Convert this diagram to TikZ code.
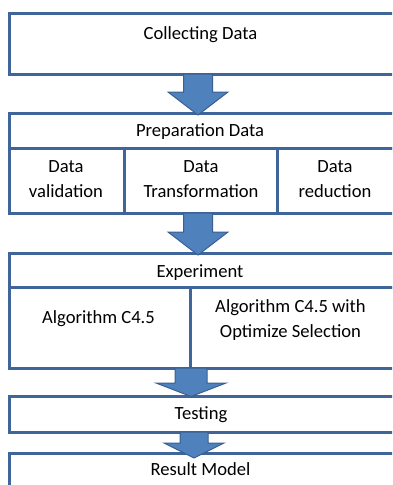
\documentclass[tikz,border=0pt]{standalone}
\usepackage{fontspec}
\setmainfont{Carlito}
\usetikzlibrary{calc}
\definecolor{boxline}{HTML}{40659A}
\definecolor{arrowfill}{HTML}{4F81BD}
\definecolor{arrowline}{HTML}{3A6091}
\newcommand{\blkarrow}[7]{% from, to, xoff, shafthalf, headhalf, tipoff, headlen
  \draw[blk] let \p1=(#1.south), \p2=(#2.north) in
    (\x2+#3pt-#4pt,\y1) -- (\x2+#3pt+#4pt,\y1) -- (\x2+#3pt+#4pt,\y2-#6pt+#7pt)
    -- (\x2+#3pt+#5pt,\y2-#6pt+#7pt) -- (\x2+#3pt,\y2-#6pt)
    -- (\x2+#3pt-#5pt,\y2-#6pt+#7pt) -- (\x2+#3pt-#4pt,\y2-#6pt+#7pt) -- cycle;}
\begin{document}
\begin{tikzpicture}[x=1pt,y=-1pt,
  cell/.style={draw=boxline, line width=3pt, fill=white, rectangle, inner sep=0pt, outer sep=0pt},
  lbl/.style={font=\fontsize{18.6}{25}\selectfont, align=center, inner sep=0pt, text=black},
  blk/.style={fill=arrowfill, draw=arrowline, line width=1pt, line join=miter}]
\useasboundingbox (0,0) rectangle (392,485);
\clip (0,0) rectangle (392,485);
% boxes
\node[cell, minimum width=386, minimum height=61] (collect) at (202,43.5) {};
\node[cell, minimum width=386, minimum height=35] (prep) at (202,130.5) {};
\node[cell, minimum width=115, minimum height=65] (val) at (66.5,180.5) {};
\node[cell, minimum width=153, minimum height=65] (trans) at (200.5,180.5) {};
\node[cell, minimum width=118, minimum height=65] (red) at (336,180.5) {};
\node[cell, minimum width=386, minimum height=34] (exp) at (202,270) {};
\node[cell, minimum width=181, minimum height=81] (alga) at (99.5,327.5) {};
\node[cell, minimum width=205, minimum height=81] (algb) at (292.5,327.5) {};
\node[cell, minimum width=386, minimum height=36] (test) at (202,414) {};
\node[cell, minimum width=386, minimum height=67] (result) at (202,486.5) {};
% texts
\node[lbl, anchor=base] (collectT) at (200.5,39.5) {Collecting Data};
\node[lbl, anchor=base] (prepT) at (200,136.5) {Preparation Data};
\node[lbl] (valT) at (66,179) {Data\\validation};
\node[lbl] (transT) at (201,179) {Data\\Transformation};
\node[lbl] (redT) at (335,179) {Data\\reduction};
\node[lbl, anchor=base] (expT) at (200,277) {Experiment};
\node[lbl, anchor=base] (algaT) at (98.5,323.5) {Algorithm C4.5};
\node[lbl] (algbT) at (290.5,320) {Algorithm C4.5 with\\Optimize Selection};
\node[lbl, anchor=base] (testT) at (201,419) {Testing};
\node[lbl, anchor=base] (resultT) at (200.5,475.5) {Result Model};
% block arrows
\blkarrow{collect}{prep}{-4}{14.5}{30}{2}{23}
\blkarrow{val}{exp}{-4}{14.5}{30}{2}{23}
\blkarrow{alga}{test}{-11}{16}{35}{0.5}{13.5}
\blkarrow{test}{result}{-8}{14}{30}{5}{15}
\end{tikzpicture}
\end{document}
